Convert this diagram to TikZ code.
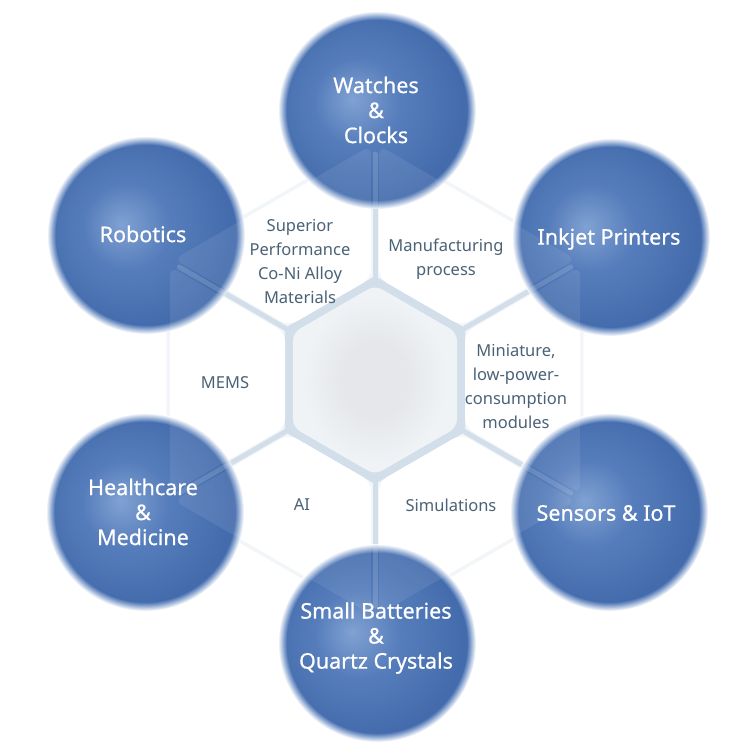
\documentclass[tikz,border=0pt]{standalone}
\usepackage{fontspec}
\setmainfont{Noto Sans}
\newfontfamily\ballfont[FakeBold=0.6]{Noto Sans}
\usetikzlibrary{calc}
\definecolor{ballhi}{RGB}{128,161,210}
\definecolor{ballmid}{RGB}{86,125,187}
\definecolor{balldark}{RGB}{68,108,172}
\definecolor{gapcol}{RGB}{210,222,233}
\definecolor{hexbg}{RGB}{243,246,249}
\definecolor{hubmid}{RGB}{229,231,234}
\definecolor{hubedge}{RGB}{240,243,246}
\definecolor{labelcol}{RGB}{74,98,118}

% edge of the path sits at 25bp
\pgfdeclareradialshading{ballshade}{\pgfpoint{-7bp}{3bp}}{%
  color(0bp)=(ballhi); color(12bp)=(ballmid); color(27bp)=(balldark);
  color(50bp)=(balldark)}
\pgfdeclareradialshading{glowshade}{\pgforigin}{%
  color(0bp)=(balldark); color(22.7bp)=(balldark); color(23.4bp)=(ballmid!80!white);
  color(25bp)=(white); color(50bp)=(white)}
\pgfdeclareradialshading{hubshade}{\pgforigin}{%
  color(0bp)=(hubmid); color(10bp)=(hubmid); color(22bp)=(hubedge); color(50bp)=(hubedge)}

\begin{document}
\begin{tikzpicture}[x=1pt, y=-1pt, line cap=round,
    ball/.style={shading=ballshade},
    glow/.style={shading=glowshade},
    petal/.style={fill=white, rounded corners=9pt},
    gapline/.style={draw=gapcol, line width=5pt},
    circtext/.style={text=white, align=center, font=\ballfont\fontsize{21.5}{25}\selectfont},
    hextext/.style={text=labelcol, align=center, font=\fontsize{16.5}{24}\selectfont}]
    \useasboundingbox (0,0) rectangle (750,750);
    %\draw [step=50, very thin, lightgray] (0,0) grid (750,750);

    % honeycomb
    \begin{scope}[shift={(375,380)}]
        \fill[hexbg, rounded corners=18pt] (30:241pt) -- (90:241pt) -- (150:241pt) --
            (210:241pt) -- (270:241pt) -- (330:241pt) -- cycle;
        \foreach \a in {30,90,...,330}
            \draw[gapline] (\a:99pt) -- (\a:226pt);
        \fill[gapcol] (30:104pt) -- (90:104pt) -- (150:104pt) --
            (210:104pt) -- (270:104pt) -- (330:104pt) -- cycle;
        \foreach \a in {0,60,...,300}
            \fill[petal, rotate=\a] (90pt,47.3pt) -- (205pt,113.7pt) --
                (205pt,-113.7pt) -- (90pt,-47.3pt) -- cycle;
        \shade[shading=hubshade, rounded corners=8pt] (30:94.7pt) -- (90:94.7pt) --
            (150:94.7pt) -- (210:94.7pt) -- (270:94.7pt) -- (330:94.7pt) -- cycle;
    \end{scope}

    % balls: soft rim first, then the body
    \foreach \x/\y in {377/110, 146/235, 611/237, 145/512, 609/512, 377/643} {
        \shade[glow] (\x,\y) circle (99pt);
        \shade[ball] (\x,\y) circle (90pt);
    }

    % faint honeycomb over the balls
    \begin{scope}[shift={(375,380)}]
        \foreach \a in {30,90,...,330}
            \draw[gapline, draw opacity=0.2] (\a:99pt) -- (\a:226pt);
        \foreach \a in {0,60,...,300}
            \fill[petal, fill opacity=0.08, rotate=\a] (90pt,47.3pt) -- (205pt,113.7pt) --
                (205pt,-113.7pt) -- (90pt,-47.3pt) -- cycle;
    \end{scope}

    \node[circtext] (watch) at (376,110) {Watches\\\&\\Clocks};
    \node[circtext] (robot) at (143,234) {Robotics};
    \node[circtext] (inkjet) at (609,239) {Inkjet Printers};
    \node[circtext] (health) at (143,512) {Healthcare\\\&\\Medicine};
    \node[circtext] (sensor) at (606,513) {Sensors \& IoT};
    \node[circtext] (battery) at (376,638) {Small Batteries\\\&\\Quartz Crystals};

    \node[hextext] (perf) at (300,261) {Superior\\Performance\\Co-Ni Alloy\\Materials};
    \node[hextext] (manu) at (446,259) {Manufacturing\\process};
    \node[hextext] (mems) at (225,383) {MEMS};
    \node[hextext] (mini) at (516,386) {Miniature,\\low-power-\\consumption\\modules};
    \node[hextext] (ai) at (302,505) {AI};
    \node[hextext] (simu) at (451,505) {Simulations};
\end{tikzpicture}
\end{document}
